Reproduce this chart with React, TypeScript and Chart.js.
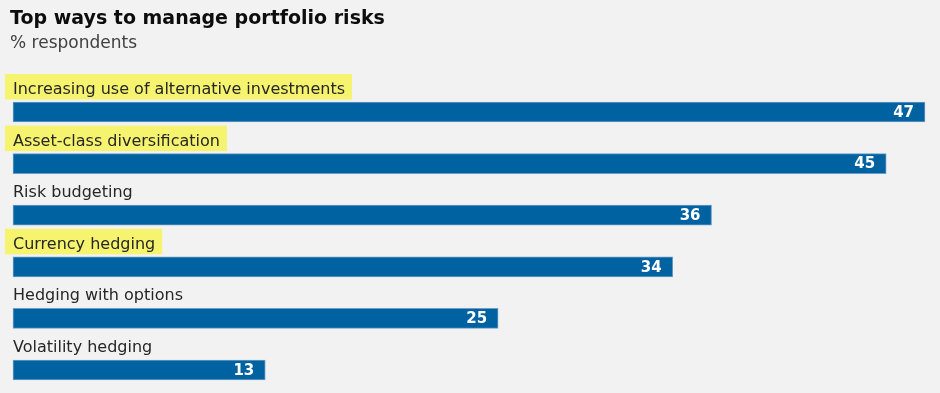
import React, { useEffect, useRef } from "react";
import { Chart, registerables } from "chart.js";

Chart.register(...registerables);

const TITLE = "Top ways to manage portfolio risks";
const SUBTITLE = "% respondents";
const categories = [
  "Increasing use of alternative investments",
  "Asset-class diversification",
  "Risk budgeting",
  "Currency hedging",
  "Hedging with options",
  "Volatility hedging",
];
const values = [47, 45, 36, 34, 25, 13];
const highlighted = [true, true, false, true, false, false];

const FONT = "'DejaVu Sans', sans-serif";

const overlayPlugin = {
  id: "overlay",
  beforeDraw(chart: any) {
    const ctx = chart.ctx;
    ctx.save();
    ctx.fillStyle = "#f2f2f2";
    ctx.fillRect(0, 0, chart.width, chart.height);
    ctx.textAlign = "left";
    ctx.textBaseline = "alphabetic";
    ctx.fillStyle = "#0d0d0d";
    ctx.font = `bold 19px ${FONT}`;
    ctx.fillText(TITLE, 10, 24);
    ctx.fillStyle = "#404040";
    ctx.font = `17px ${FONT}`;
    ctx.fillText(SUBTITLE, 10, 48);
    ctx.restore();
  },
  afterDatasetsDraw(chart: any) {
    const ctx = chart.ctx;
    const yScale = chart.scales.y;
    const xScale = chart.scales.x;
    const meta = chart.getDatasetMeta(0);
    ctx.save();
    categories.forEach((label, i) => {
      const bar = meta.data[i];
      const yc = yScale.getPixelForValue(i);
      const half = bar.height / 2;
      const top = yc - half;
      ctx.font = `16px ${FONT}`;
      const w = ctx.measureText(label).width;
      const x0 = xScale.left;
      if (highlighted[i]) {
        ctx.fillStyle = "#f6f36e";
        ctx.fillRect(x0 - 8, top - 28, w + 15, 25.5);
      }
      ctx.fillStyle = "#262626";
      ctx.textAlign = "left";
      ctx.textBaseline = "alphabetic";
      ctx.fillText(label, x0, top - 8);
      ctx.fillStyle = "#ffffff";
      ctx.font = `bold 15px ${FONT}`;
      ctx.textAlign = "right";
      ctx.textBaseline = "middle";
      ctx.fillText(String(values[i]), bar.x - 11, yc + 1);
    });
    ctx.restore();
  },
};

export default function App() {
  const ref = useRef<HTMLCanvasElement | null>(null);
  useEffect(() => {
    if (!ref.current) return;
    const chart = new Chart(ref.current, {
      type: "bar",
      data: {
        labels: categories,
        datasets: [
          {
            data: values,
            backgroundColor: "#0062a1",
            borderColor: "#6a9dc9",
            borderWidth: 1,
            borderSkipped: false,
            barThickness: 20,
            clip: false as any,
          },
        ],
      },
      options: {
        indexAxis: "y",
        animation: false,
        responsive: false,
        maintainAspectRatio: false,
        layout: { padding: { top: 112, bottom: 23, left: 13, right: 15 } },
        scales: {
          x: { display: false, min: 0, max: 47 },
          y: { display: false, offset: false },
        },
        plugins: {
          legend: { display: false },
          tooltip: { enabled: false },
          title: { display: false },
        },
      },
      plugins: [overlayPlugin],
    });
    return () => chart.destroy();
  }, []);
  return (
    <div style={{ position: "absolute", left: 0, top: 0, width: 940, height: 393, background: "#f2f2f2" }}>
      <canvas ref={ref} width={940} height={393} style={{ display: "block" }} />
    </div>
  );
}
